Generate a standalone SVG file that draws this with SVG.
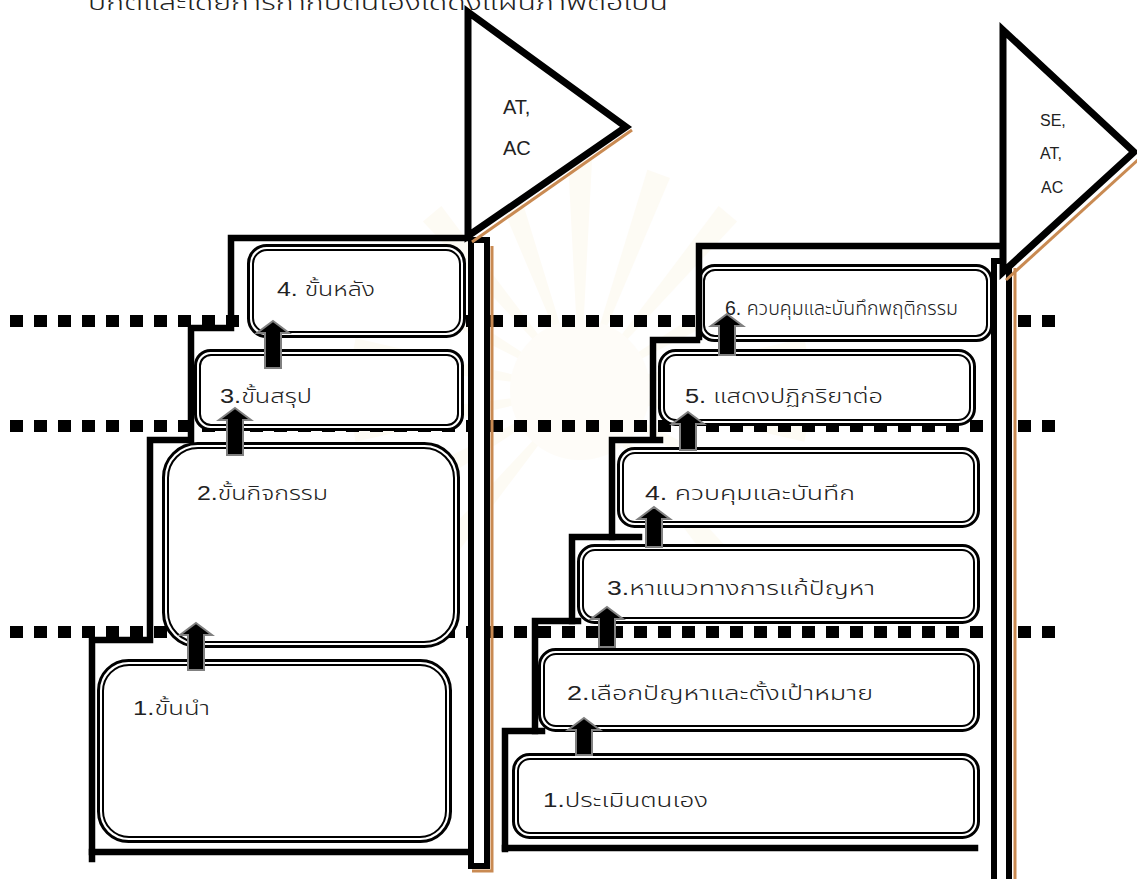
<svg xmlns="http://www.w3.org/2000/svg" width="1137" height="879" viewBox="0 0 1137 879">
  <defs>
    <style>
      .bo { fill: #ffffff; stroke: #000; stroke-width: 3; }
      .bi { fill: none; stroke: #000; stroke-width: 2; }
      .dots { stroke: #000; stroke-width: 12; stroke-dasharray: 13 11; fill: none; }
      .step { fill: none; stroke: #000; stroke-width: 6.5; stroke-linejoin: miter; stroke-linecap: square; }
      .arrow { fill: #000; stroke: #808080; stroke-width: 2; stroke-linejoin: miter; }
      .pole { fill: #ffffff; stroke: #000; stroke-width: 6; }
      .flag { fill: #ffffff; stroke: #000; stroke-width: 7; stroke-linejoin: miter; }
      .shade { fill: none; stroke: #c98a52; stroke-width: 3; }
      .lbl { font-family: 'Liberation Sans', 'Noto Sans Thai', 'Noto Sans', sans-serif; font-size: 20px; font-weight: 300; fill: #222; }
      .tag { font-family: 'Liberation Sans', Arial, sans-serif; fill: #222; }
      .ray { fill: #fbf2dc; }
    </style>
  </defs>

  <rect width="1137" height="879" fill="#ffffff"/>

  <!-- faint emblem in the background -->
  <g id="emblem" opacity="0.3">
    <g class="ray" transform="translate(580 390)">
      <path d="M0 0 L-12 -230 L12 -230 Z"/>
      <path d="M0 0 L-12 -230 L12 -230 Z" transform="rotate(20)"/>
      <path d="M0 0 L-12 -230 L12 -230 Z" transform="rotate(40)"/>
      <path d="M0 0 L-12 -230 L12 -230 Z" transform="rotate(60)"/>
      <path d="M0 0 L-12 -230 L12 -230 Z" transform="rotate(80)"/>
      <path d="M0 0 L-12 -230 L12 -230 Z" transform="rotate(100)"/>
      <path d="M0 0 L-12 -230 L12 -230 Z" transform="rotate(120)"/>
      <path d="M0 0 L-12 -230 L12 -230 Z" transform="rotate(140)"/>
      <path d="M0 0 L-12 -230 L12 -230 Z" transform="rotate(-20)"/>
      <path d="M0 0 L-12 -230 L12 -230 Z" transform="rotate(-40)"/>
      <path d="M0 0 L-12 -230 L12 -230 Z" transform="rotate(-60)"/>
      <path d="M0 0 L-12 -230 L12 -230 Z" transform="rotate(-80)"/>
      <path d="M0 0 L-12 -230 L12 -230 Z" transform="rotate(-100)"/>
      <path d="M0 0 L-12 -230 L12 -230 Z" transform="rotate(-120)"/>
      <path d="M0 0 L-12 -230 L12 -230 Z" transform="rotate(-140)"/>
      <circle r="70" fill="#fdf7ea"/>
    </g>
  </g>

  <!-- heading line, running off the top edge -->
  <text id="heading" x="88" y="10" font-family="'Liberation Sans', 'Noto Sans Thai', 'Noto Sans', sans-serif" font-size="22" font-weight="300" fill="#222" textLength="580" lengthAdjust="spacingAndGlyphs">ปกติและโดยการกำกับตนเองได้ดังแผนภาพต่อไปนี้</text>

  <!-- level lines -->
  <g id="levels">
    <line class="dots" x1="10" y1="321" x2="1057" y2="321"/>
    <line class="dots" x1="10" y1="426" x2="1057" y2="426"/>
    <line class="dots" x1="10" y1="632" x2="1057" y2="632"/>
  </g>

  <!-- left staircase: lesson steps -->
  <g id="left-1">
    <rect class="bo" x="98.5" y="660.5" width="352" height="181" rx="30"/>
    <rect class="bi" x="103" y="665" width="343" height="172" rx="26"/>
    <text class="lbl" x="133" y="715" textLength="77" lengthAdjust="spacingAndGlyphs">1.ขั้นนำ</text>
  </g>
  <g id="left-2">
    <rect class="bo" x="163.5" y="443.5" width="295" height="203" rx="34"/>
    <rect class="bi" x="168" y="448" width="286" height="194" rx="30"/>
    <text class="lbl" x="197" y="500" textLength="131" lengthAdjust="spacingAndGlyphs">2.ขั้นกิจกรรม</text>
  </g>
  <g id="left-3">
    <rect class="bo" x="195.5" y="350.5" width="267" height="79" rx="15"/>
    <rect class="bi" x="200" y="355" width="258" height="70" rx="11"/>
    <text class="lbl" x="220" y="403" textLength="92" lengthAdjust="spacingAndGlyphs">3.ขั้นสรุป</text>
  </g>
  <g id="left-4">
    <rect class="bo" x="248.5" y="245.5" width="216" height="91" rx="18"/>
    <rect class="bi" x="253" y="250" width="207" height="82" rx="14"/>
    <text class="lbl" x="277" y="296" textLength="98" lengthAdjust="spacingAndGlyphs">4. ขั้นหลัง</text>
  </g>

  <!-- right staircase: self-management steps -->
  <g id="right-1">
    <rect class="bo" x="513.5" y="754.5" width="465" height="83" rx="16"/>
    <rect class="bi" x="518" y="759" width="456" height="74" rx="12"/>
    <text class="lbl" x="543" y="807" textLength="165" lengthAdjust="spacingAndGlyphs">1.ประเมินตนเอง</text>
  </g>
  <g id="right-2">
    <rect class="bo" x="539.5" y="649.5" width="439" height="81" rx="16"/>
    <rect class="bi" x="544" y="654" width="430" height="72" rx="12"/>
    <text class="lbl" x="567" y="700" textLength="306" lengthAdjust="spacingAndGlyphs">2.เลือกปัญหาและตั้งเป้าหมาย</text>
  </g>
  <g id="right-3">
    <rect class="bo" x="578.5" y="545.5" width="400" height="77" rx="16"/>
    <rect class="bi" x="583" y="550" width="391" height="68" rx="12"/>
    <text class="lbl" x="607" y="595" textLength="268" lengthAdjust="spacingAndGlyphs">3.หาแนวทางการแก้ปัญหา</text>
  </g>
  <g id="right-4">
    <rect class="bo" x="618.5" y="448.5" width="360" height="78" rx="16"/>
    <rect class="bi" x="623" y="453" width="351" height="69" rx="12"/>
    <text class="lbl" x="645" y="500" textLength="210" lengthAdjust="spacingAndGlyphs">4. ควบคุมและบันทึก</text>
  </g>
  <g id="right-5">
    <rect class="bo" x="659.5" y="350.5" width="315" height="74" rx="16"/>
    <rect class="bi" x="664" y="355" width="306" height="65" rx="12"/>
    <text class="lbl" x="685" y="403" textLength="198" lengthAdjust="spacingAndGlyphs">5. แสดงปฏิกริยาต่อ</text>
  </g>
  <g id="right-6">
    <rect class="bo" x="699.5" y="265.5" width="292" height="75" rx="15"/>
    <rect class="bi" x="704" y="270" width="283" height="66" rx="11"/>
    <text class="lbl" x="725" y="315" font-size="16" textLength="233" lengthAdjust="spacingAndGlyphs">6. ควบคุมและบันทึกพฤติกรรม</text>
  </g>

  <!-- connectors: upward block arrows and stair outlines -->
  <g id="connectors">
    <polygon class="arrow" points="196,623 212,635 204,635 204,670 188,670 188,635 180,635"/>
    <polygon class="arrow" points="235,408 251,420 243,420 243,455 227,455 227,420 219,420"/>
    <polygon class="arrow" points="273,321 289,333 281,333 281,368 265,368 265,333 257,333"/>

    <polygon class="arrow" points="584,718 600,730 592,730 592,755 576,755 576,730 568,730"/>
    <polygon class="arrow" points="607,607 623,619 615,619 615,647 599,647 599,619 591,619"/>
    <polygon class="arrow" points="654,507 670,519 662,519 662,547 646,547 646,519 638,519"/>
    <polygon class="arrow" points="688,412 704,424 696,424 696,450 680,450 680,424 672,424"/>
    <polygon class="arrow" points="727,314 743,326 735,326 735,355 719,355 719,326 711,326"/>

    <path class="step" d="M92 859 V640 H150 V440 H191 V328 H231 V238 H468"/>
    <path class="step" d="M92 852 H466"/>

    <path class="step" d="M505 849 V731 H542"/>
    <path class="step" d="M535 731 V621 H578"/>
    <path class="step" d="M572 621 V537 H639"/>
    <path class="step" d="M612 537 V440 H660"/>
    <path class="step" d="M653 437 V340 H697"/>
    <path class="step" d="M699 337 V246 H1001"/>
    <path class="step" d="M505 848 H975"/>
  </g>

  <!-- left pole and flag -->
  <g id="flag-left">
    <path class="shade" d="M492 246 V871 H472"/>
    <rect class="pole" x="471" y="240" width="16" height="626"/>
    <path class="shade" d="M472 242 L632 130"/>
    <polygon class="flag" points="468,12 626,127 468,236"/>
    <text class="tag" x="503" y="114" font-size="20">AT,</text>
    <text class="tag" x="503" y="155" font-size="20">AC</text>
  </g>

  <!-- right pole and flag -->
  <g id="flag-right">
    <path class="shade" d="M1015 268 V879"/>
    <rect class="pole" x="994" y="261" width="15" height="640"/>
    <path class="shade" d="M1006 280 L1140 158"/>
    <polygon class="flag" points="1003,30 1134,152 1003,272"/>
    <text class="tag" x="1040" y="126" font-size="16">SE,</text>
    <text class="tag" x="1040" y="159" font-size="16">AT,</text>
    <text class="tag" x="1041" y="193" font-size="16">AC</text>
  </g>
</svg>
